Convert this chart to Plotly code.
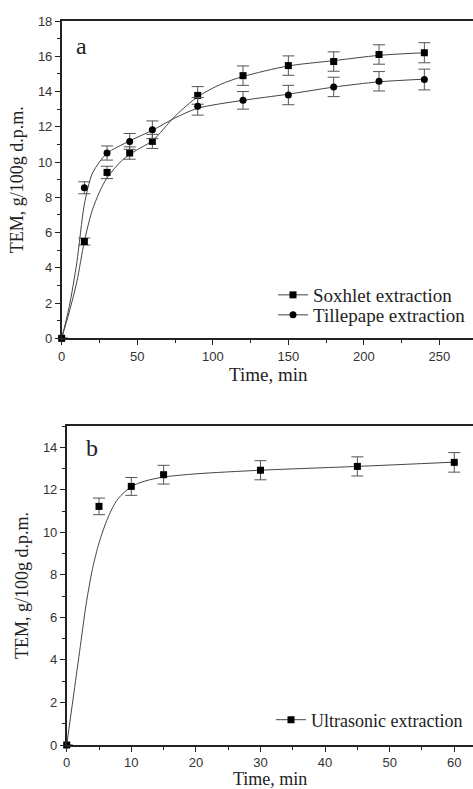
import plotly.graph_objects as go

# ---- Panel a data ----
t_a = [0, 15, 30, 45, 60, 90, 120, 150, 180, 210, 240]
soxhlet = [0, 5.49, 9.41, 10.51, 11.17, 13.78, 14.9, 15.47, 15.7, 16.1, 16.2]
soxhlet_err = [0, 0.2, 0.35, 0.35, 0.4, 0.5, 0.55, 0.55, 0.55, 0.55, 0.57]
tillepape = [0, 8.54, 10.51, 11.17, 11.83, 13.16, 13.5, 13.8, 14.26, 14.58, 14.68]
tillepape_err = [0, 0.34, 0.4, 0.45, 0.5, 0.5, 0.5, 0.55, 0.55, 0.55, 0.59]

# fitted curves
fit_sox_t = [0, 5, 10, 15, 20, 25, 30, 40, 50, 60, 75, 90, 105, 120, 150, 180, 210, 240]
fit_sox_v = [0, 1.5, 3.2, 5.5, 7.2, 8.3, 9.1, 10.1, 10.7, 11.2, 12.6, 13.7, 14.4, 14.85, 15.45, 15.75, 16.05, 16.2]
fit_til_t = [0, 5, 10, 15, 20, 25, 30, 45, 60, 75, 90, 120, 150, 180, 210, 240]
fit_til_v = [0, 1.8, 4.3, 7.6, 9.3, 10.0, 10.5, 11.2, 11.8, 12.5, 13.05, 13.5, 13.85, 14.25, 14.55, 14.7]

# ---- Panel b data ----
t_b = [0, 5, 10, 15, 30, 45, 60]
ultra = [0, 11.22, 12.16, 12.71, 12.92, 13.1, 13.29]
ultra_err = [0, 0.39, 0.42, 0.44, 0.45, 0.45, 0.46]
fit_ult_t = [0, 1, 2, 3, 4, 5, 6, 7, 8, 10, 12, 15, 20, 30, 45, 60]
fit_ult_v = [0, 2.2, 4.4, 6.6, 8.3, 9.5, 10.4, 11.1, 11.6, 12.15, 12.4, 12.6, 12.75, 12.92, 13.1, 13.3]

W, H = 473, 789
SERIF = "Liberation Serif"
SANS = "Liberation Sans"
LINE_C = "#444444"
ERR_C = "#555555"
TXT_C = "#222222"

fig = go.Figure()

def add_series(x, y, err, fx, fy, symbol, name, xa, ya, legend):
    fig.add_trace(go.Scatter(x=fx, y=fy, mode="lines", line=dict(color=LINE_C, width=1, shape="spline", smoothing=0.8),
                             xaxis=xa, yaxis=ya, showlegend=False, hoverinfo="skip"))
    fig.add_trace(go.Scatter(x=x, y=y, mode="markers",
                             marker=dict(symbol=symbol, size=7, color="black"),
                             error_y=dict(type="data", array=err, color=ERR_C, thickness=1, width=6),
                             xaxis=xa, yaxis=ya, showlegend=False, cliponaxis=False))
    fig.add_trace(go.Scatter(x=[None], y=[None], mode="lines+markers", name=name,
                             line=dict(color=LINE_C, width=1),
                             marker=dict(symbol=symbol, size=7, color="black"),
                             xaxis=xa, yaxis=ya, legend=legend))

add_series(t_a, soxhlet, soxhlet_err, fit_sox_t, fit_sox_v, "square", "Soxhlet extraction", "x", "y", "legend")
add_series(t_a, tillepape, tillepape_err, fit_til_t, fit_til_v, "circle", "Tillepape extraction", "x", "y", "legend3")
add_series(t_b, ultra, ultra_err, fit_ult_t, fit_ult_v, "square", "Ultrasonic extraction", "x2", "y2", "legend2")

axis_common = dict(showline=True, linecolor="#222", linewidth=1.5, ticks="outside", ticklen=5,
                   tickwidth=1, tickcolor="#222", showgrid=False, zeroline=False,
                   tickfont=dict(family=SANS, size=13, color="#333"))
minor_c = dict(ticks="outside", ticklen=3, tickcolor="#222", tickwidth=1)
xtitle_font = dict(family=SERIF, size=19, color=TXT_C)
ytitle_font = dict(family=SERIF, size=18, color=TXT_C)
leg_font = dict(family=SERIF, size=19, color=TXT_C)

ya_top = [(H - 338.3) / H, (H - 21) / H]
yb = [(H - 745) / H, (H - 426) / H]

leg_common = dict(xref="container", yref="container", xanchor="left", yanchor="middle",
                  bgcolor="rgba(0,0,0,0)", itemwidth=30)

fig.update_layout(
    width=W, height=H, margin=dict(l=0, r=0, t=0, b=0, autoexpand=False),
    paper_bgcolor="white", plot_bgcolor="white",
    xaxis=dict(domain=[61.7 / W, 1], range=[0, 272.2], dtick=50, tick0=0, mirror=True,
               minor=dict(dtick=25, **minor_c), anchor="y", **axis_common),
    yaxis=dict(domain=ya_top, range=[0, 18], dtick=2, tick0=0, anchor="x",
               minor=dict(dtick=1, **minor_c),
               title=dict(text="TEM, g/100g d.p.m.", font=ytitle_font, standoff=10),
               **axis_common),
    xaxis2=dict(domain=[66.7 / W, 1], range=[0, 62.9], dtick=10, tick0=0, mirror=True,
                minor=dict(dtick=5, **minor_c), anchor="y2", **axis_common),
    yaxis2=dict(domain=yb, range=[0, 15], dtick=2, tick0=0, anchor="x2",
                minor=dict(dtick=1, **minor_c),
                title=dict(text="TEM, g/100g d.p.m.", font=ytitle_font, standoff=10),
                **axis_common),
    legend=dict(x=273 / W, y=1 - 295 / H, font=leg_font, **leg_common),
    legend3=dict(x=273 / W, y=1 - 315 / H, font=leg_font, **leg_common),
    legend2=dict(x=271 / W, y=1 - 720 / H, font=dict(family=SERIF, size=18, color=TXT_C), **leg_common),
    annotations=[
        dict(text="a", x=81 / W, y=1 - 46 / H, xref="paper", yref="paper", showarrow=False,
             xanchor="center", yanchor="middle", font=dict(family=SERIF, size=24, color=TXT_C)),
        dict(text="b", x=92 / W, y=1 - 448 / H, xref="paper", yref="paper", showarrow=False,
             xanchor="center", yanchor="middle", font=dict(family=SERIF, size=24, color=TXT_C)),
        dict(text="Time, min", x=268 / W, y=1 - 375 / H, xref="paper", yref="paper", showarrow=False,
             xanchor="center", yanchor="middle", font=xtitle_font),
        dict(text="Time, min", x=270 / W, y=1 - 779 / H, xref="paper", yref="paper", showarrow=False,
             xanchor="center", yanchor="middle", font=dict(family=SERIF, size=18, color=TXT_C)),
    ],
)

fig.write_html("out.html")
